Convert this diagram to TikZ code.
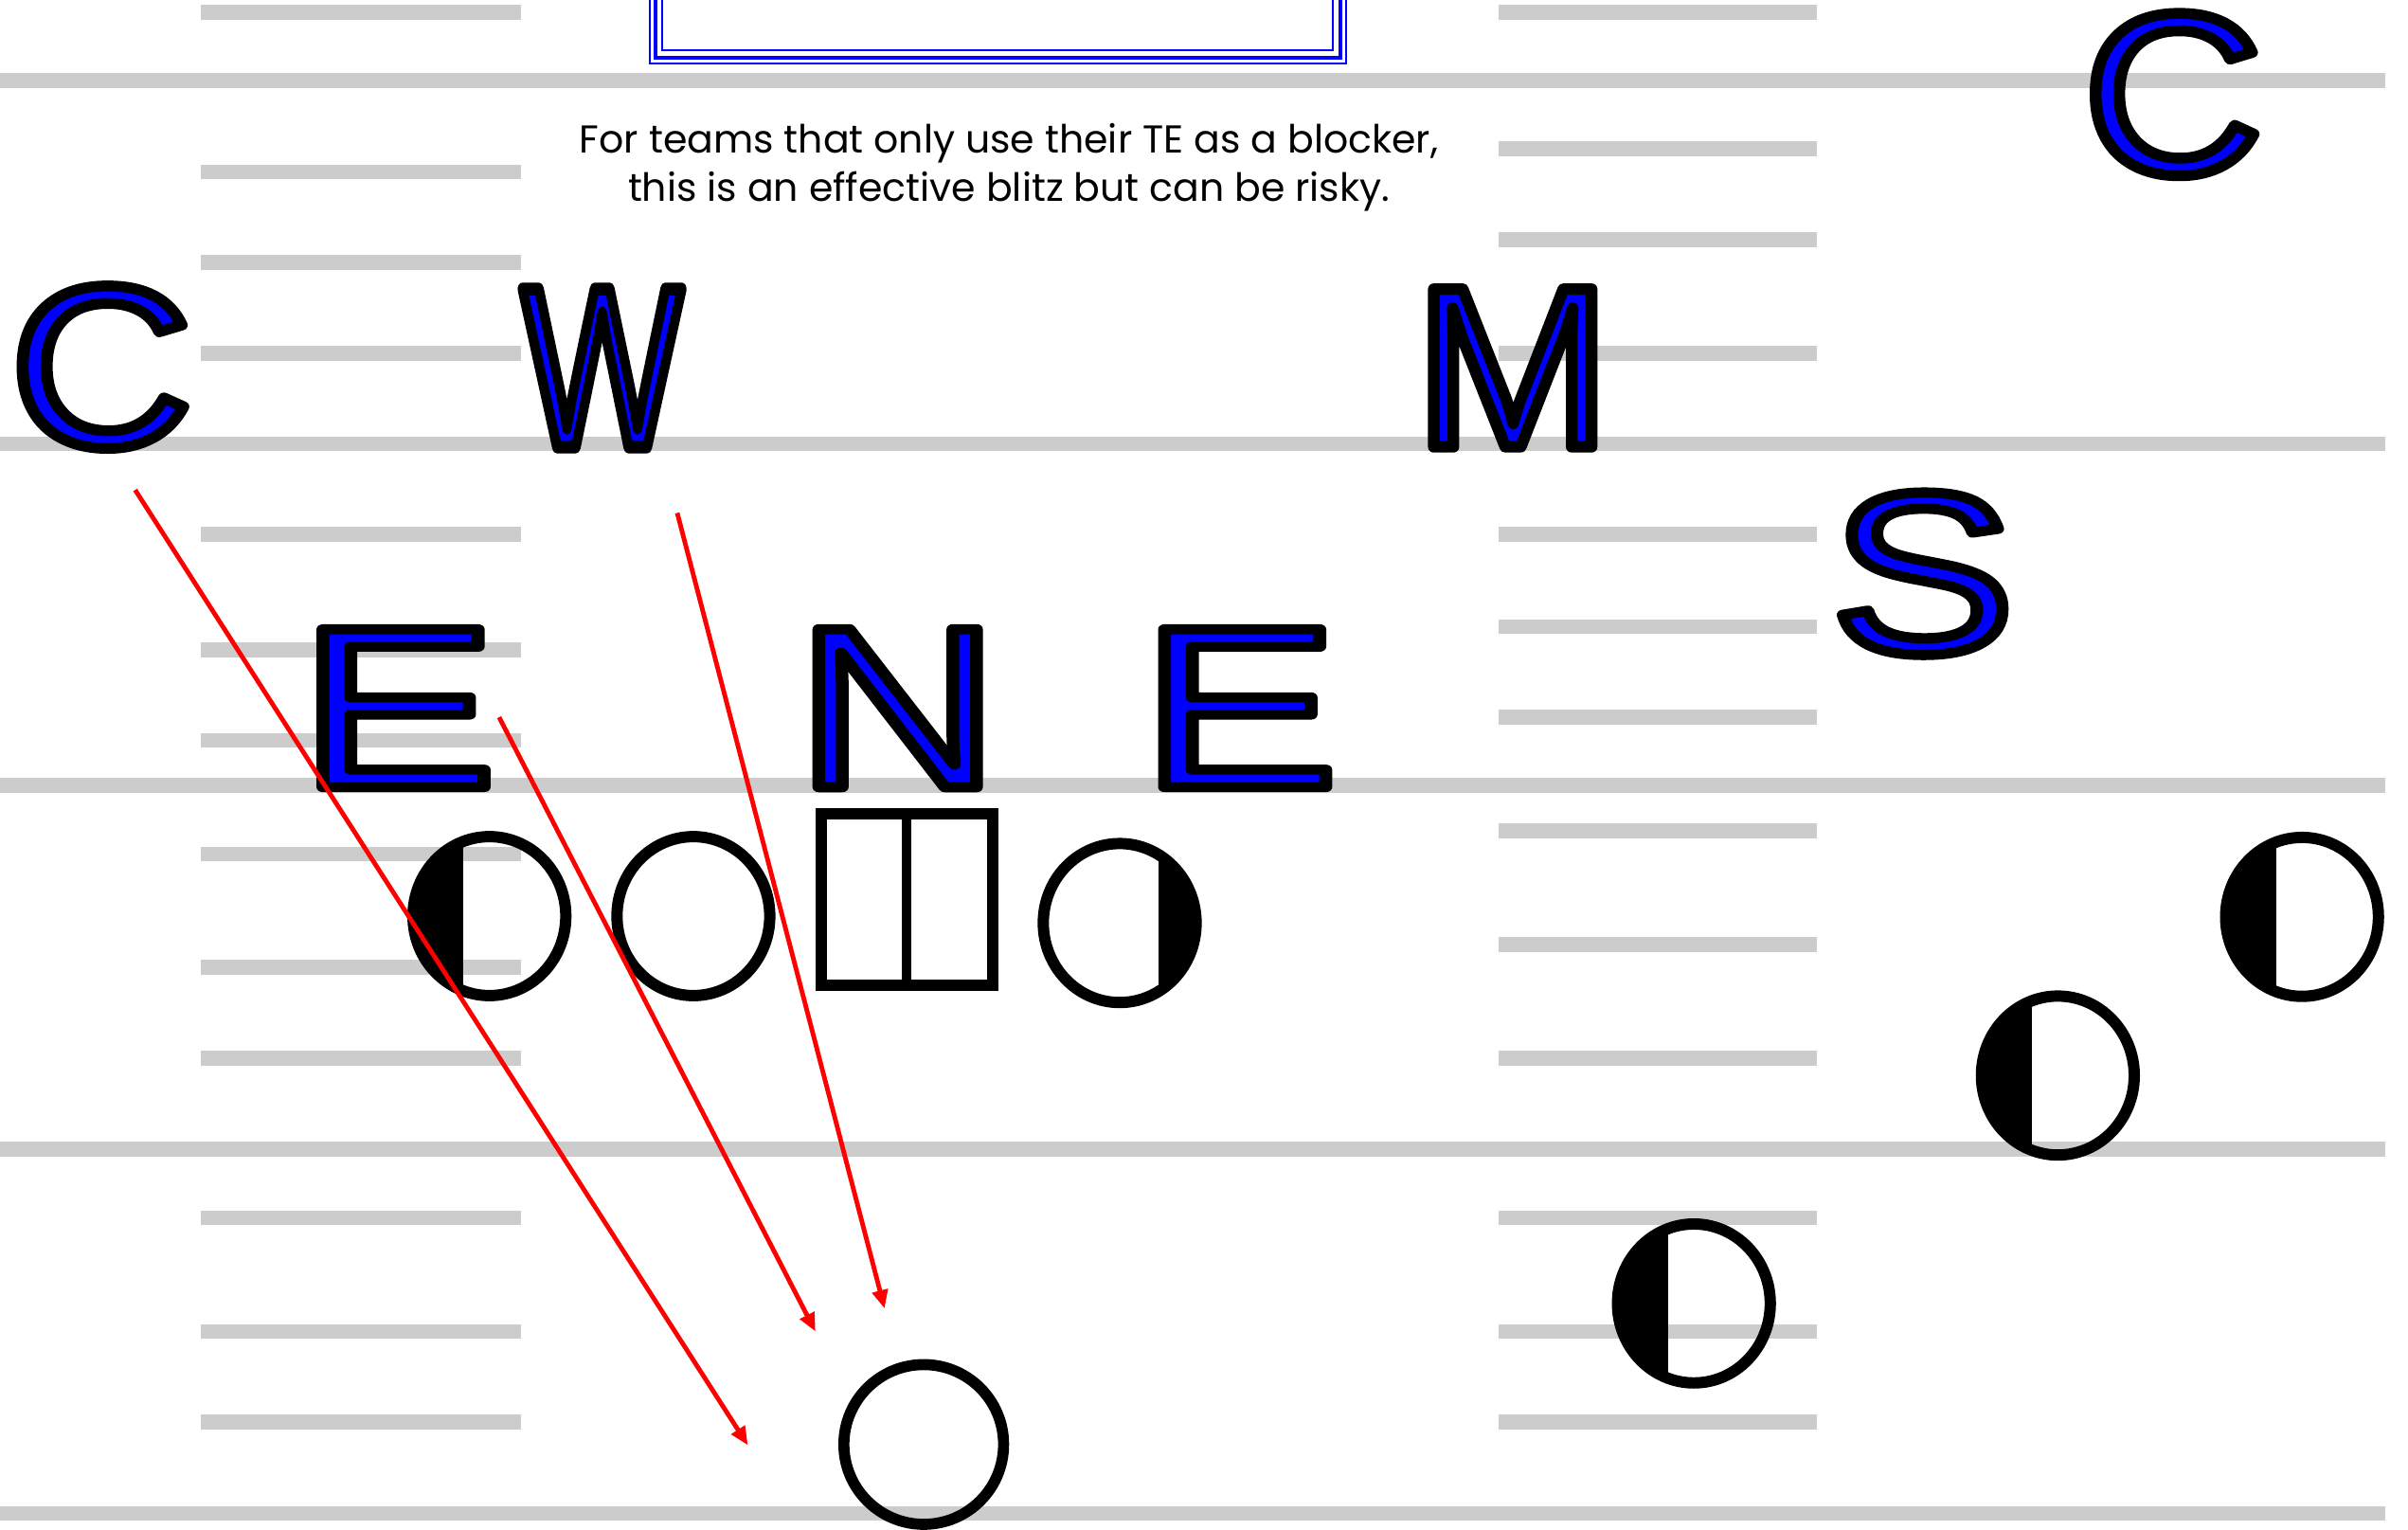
\documentclass[tikz,border=0pt]{standalone}
\usepackage{fontspec}
\setmainfont{Poppins}
\newfontfamily\letterfont{Liberation Sans}
\usepackage{graphicx}
\usetikzlibrary{arrows.meta,shapes.geometric}

\newcommand{\bigletter}[3]{\scalebox{#1}[1]{\color{blue}\special{pdf:literal direct 0 0 0 RG 1 j 2 Tr #2 w}#3\special{pdf:literal direct 0 Tr}}}

\begin{document}
\begin{tikzpicture}[
    x=0.1mm, y=-0.1mm,
    yard/.style={draw=black!20, line width=2.75pt},
    player/.style={ellipse, draw, line width=2.1pt, minimum width=9.95mm, minimum height=10.35mm, inner sep=0pt},
    lfill/.style={player, path picture={\fill (path picture bounding box.south west) rectangle ([xshift=-1.7mm]path picture bounding box.north);}},
    rfill/.style={player, path picture={\fill ([xshift=2.5mm]path picture bounding box.south) rectangle (path picture bounding box.north east);}},
    snapbox/.style={draw, line width=2.1pt, minimum width=11.17mm, minimum height=11.13mm, inner sep=0pt,
        path picture={\draw[line width=1.8pt] (path picture bounding box.north) -- (path picture bounding box.south);}},
    letter/.style={anchor=base, inner sep=0pt, font=\letterfont\fontsize{42.5}{50}\selectfont},
    blitz/.style={draw=red, line width=0.85pt, -{Triangle[length=1.2mm, width=1mm]}}
]
    \useasboundingbox (0,0) rectangle (1568,996);
    \fill[white] (0,0) rectangle (1568,996);
    \foreach \y in {52.5,289,511.4,748.3,985.5} {
        \draw[yard] (0,\y) -- (1553,\y);
    }
    \foreach \y in {8,112,171,230,348,423,482,556,630,689,793,867,926} {
        \draw[yard] (131,\y) -- (339,\y);
    }
    \foreach \y in {8,97,156,230,348,408,467,541,615,689,793,867,926} {
        \draw[yard] (976,\y) -- (1183,\y);
    }
    \draw[blue, line width=0.35pt] (423,-20) rectangle (876.6,41.5);
    \draw[blue, line width=0.7pt] (426.8,-20) rectangle (872.9,37.5);
    \draw[blue, line width=0.35pt] (431.4,-20) rectangle (867.7,33);
    \node[align=center, font=\fontsize{7.2}{9.1}\selectfont] (note) at (657,109)
        {For teams that only use their TE as a blocker,\\this is an effective blitz but can be risky.};

    \node[letter] (cl) at (66,290.5) {\bigletter{1.106}{2.0}{C}};
    \node[letter] (w) at (392,291) {\bigletter{0.742}{2.4}{W}};
    \node[letter] (m) at (985,291) {\bigletter{1.028}{2.1}{M}};
    \node[letter] (cr) at (1415,113) {\bigletter{1.088}{2.0}{C}};
    \node[letter] (s) at (1252,425) {\bigletter{1.207}{1.9}{S}};
    \node[letter] (el) at (259,512.5) {\bigletter{1.296}{1.85}{E}};
    \node[letter] (n) at (584.5,512.5) {\bigletter{1.231}{1.9}{N}};
    \node[letter] (er) at (807,512.5) {\bigletter{1.296}{1.85}{E}};

    \node[lfill] (lt) at (318.7,596.5) {};
    \node[player] (lg) at (451.5,596.5) {};
    \node[snapbox] (ctr) at (590.4,585.8) {};
    \node[rfill] (te) at (729.1,601) {};
    \node[lfill] (wr1) at (1499,597) {};
    \node[lfill] (wr2) at (1340,700.3) {};
    \node[lfill] (wr3) at (1103,848.7) {};
    \node[circle, draw, line width=2.05pt, minimum size=10.4mm, inner sep=0pt] (qb) at (601.5,940.5) {};

    \coordinate (r1) at (88,319);
    \coordinate (r2) at (325,467);
    \coordinate (r3) at (441,334);
    \coordinate (t1) at (487,941);
    \coordinate (t2) at (531,867);
    \coordinate (t3) at (576,852);
    \draw[blitz] (r1) -- (t1);
    \draw[blitz] (r2) -- (t2);
    \draw[blitz] (r3) -- (t3);
\end{tikzpicture}
\end{document}
